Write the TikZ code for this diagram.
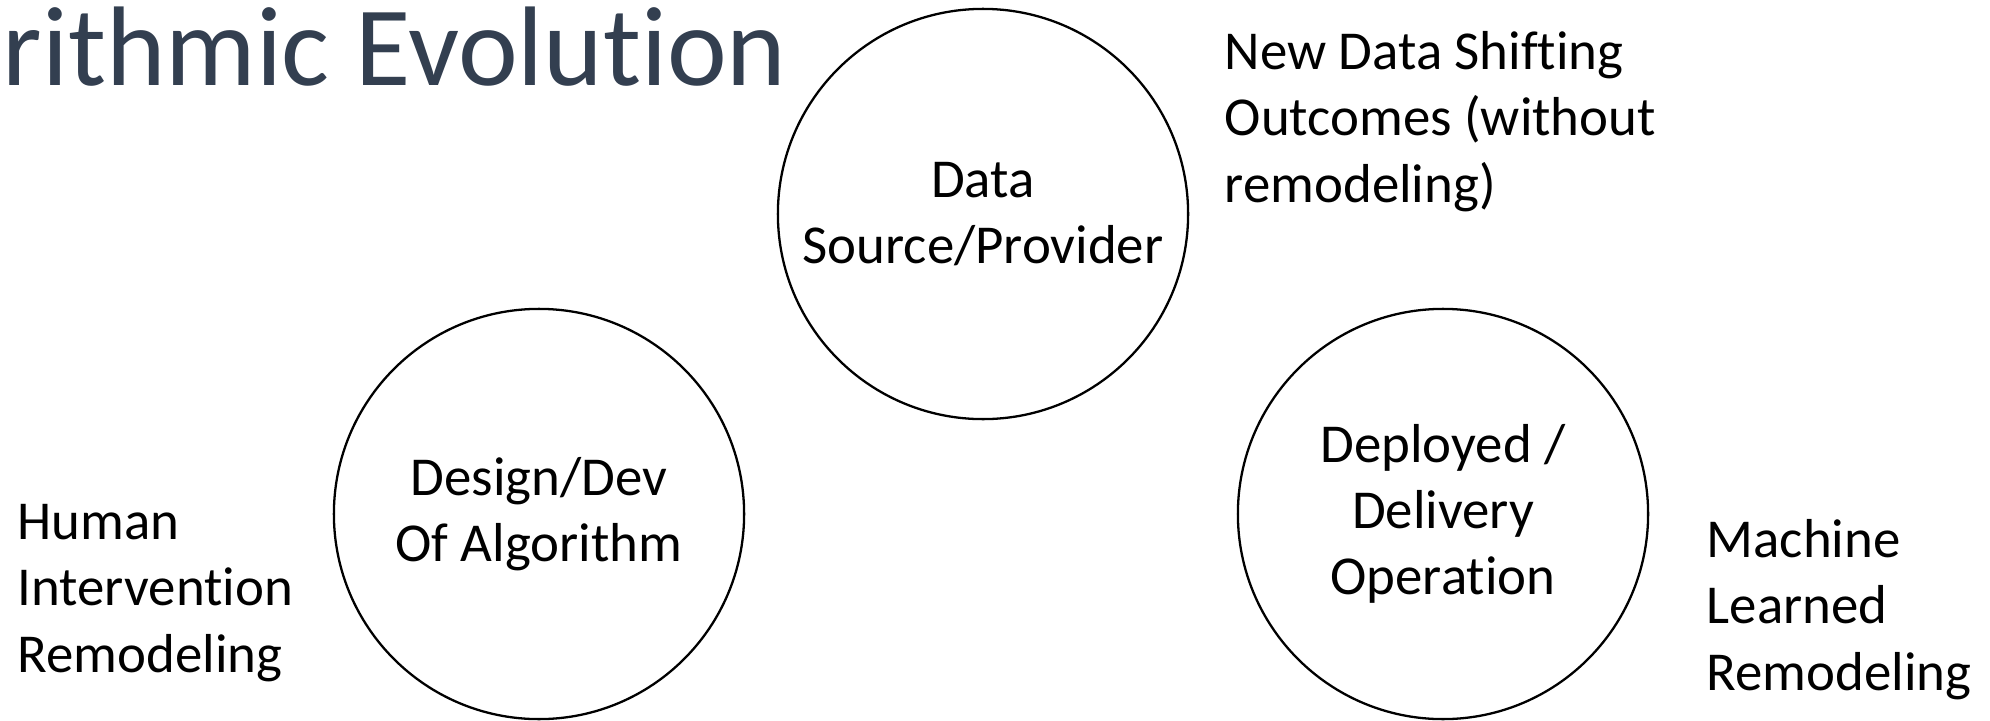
\documentclass[tikz,border=0pt]{standalone}
\usepackage{fontspec}
\setmainfont{Carlito}[Ligatures=NoCommon]
\usetikzlibrary{positioning}
\definecolor{titlegrey}{RGB}{51,63,80}
\tikzset{
	stage/.style={draw, circle, line width=0.65pt, minimum size=4.1cm, inner sep=0pt, align=center, font=\fontsize{15.6}{18.8}\selectfont},
	note/.style={anchor=base west, inner sep=0pt, align=left, font=\fontsize{15.6}{18.8}\selectfont}
}
\begin{document}
\begin{tikzpicture}[x=0.01cm, y=-0.01cm]
		\useasboundingbox (0,0) rectangle (1990,721);
		%%%%% START %%%%%
		\node[anchor=base west, inner sep=0pt, text=titlegrey, font=\fontsize{32.2}{38}\selectfont] (title) at (2,85) {rithmic Evolution};
		
		\node[stage] (source) at (983,214) {Data\\Source/Provider};
		\node[stage] (design) at (539,514) {Design/Dev\\Of Algorithm};
		\node[stage] (deploy) at (1443,514) {Deployed /\\Delivery\\Operation};
		
		% base sits on the last line
		\node[note] (shift) at (1224,202) {New Data Shifting\\Outcomes (without\\remodeling)};
		\node[note] (human) at (17,672) {Human\\Intervention\\Remodeling};
		\node[note] (machine) at (1706,690) {Machine\\Learned\\Remodeling};
		%%%%% END %%%%%
	\end{tikzpicture}
\end{document}
